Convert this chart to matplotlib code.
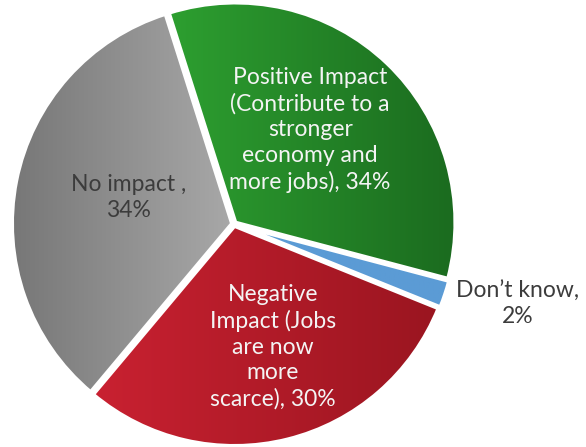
import numpy as np
import matplotlib
matplotlib.use("Agg")
import matplotlib.pyplot as plt
from matplotlib.colors import to_rgb

labels = ["Positive Impact\n(Contribute to a\nstronger\neconomy and\nmore jobs), 34%",
          "Don\u2019t know,\n2%",
          "Negative\nImpact (Jobs\nare now\nmore\nscarce), 30%",
          "No impact ,\n34%"]
values = [34, 2, 30, 34]

# left / right gradient colours for each slice
colors_left = ["#2d9f30", "#5b9bd5", "#c92131", "#777777"]
colors_right = ["#1b6b1f", "#5b9bd5", "#9a1520", "#a8a8a8"]
text_colors = ["#f4f4f4", "#3c3c3c", "#f4f4f4", "#3c3c3c"]
label_dist = [0.55, 1.34, 0.585, 0.495]
label_angle_shift = [4.6, 2.7, 3.6, -2.8]
explode = [2, 2.5, 2, 2]

W, H = 586, 447
fig = plt.figure(figsize=(W / 100, H / 100), dpi=100)
ax = fig.add_axes([0, 0, 1, 1])

cx, cy, r = 234, H - 224, 220
wedges, _ = ax.pie(values, colors=colors_left, startangle=107.6, counterclock=False,
                   center=(cx, cy), radius=r, explode=explode,
                   wedgeprops=dict(edgecolor="white", linewidth=2.8))
ax.set_xlim(0, W)
ax.set_ylim(0, H)
ax.set_aspect("equal")
ax.axis("off")

for w, cl, cr in zip(wedges, colors_left, colors_right):
    ext = w.get_path().get_extents(w.get_patch_transform())
    x0, x1, y0, y1 = ext.x0, ext.x1, ext.y0, ext.y1
    t = np.linspace(0, 1, 256)[None, :, None]
    img = (1 - t) * np.array(to_rgb(cl)) + t * np.array(to_rgb(cr))
    img = np.repeat(img, 2, axis=0)
    im = ax.imshow(img, extent=(x0, x1, y0, y1), origin="lower",
                   aspect="auto", zorder=w.get_zorder() - 0.1, interpolation="bilinear")
    im.set_clip_path(w)
    w.set_facecolor("none")

ax.set_xlim(0, W)
ax.set_ylim(0, H)

for w, lab, tc, d, da in zip(wedges, labels, text_colors, label_dist, label_angle_shift):
    mid = np.deg2rad((w.theta1 + w.theta2) / 2 + da)
    x = cx + d * r * np.cos(mid)
    y = cy + d * r * np.sin(mid)
    ax.text(x, y, lab, ha="center", va="center", color=tc, fontsize=16.5,
            family="Lato", linespacing=1.28, zorder=5)

fig.savefig("out.png", dpi=100)
